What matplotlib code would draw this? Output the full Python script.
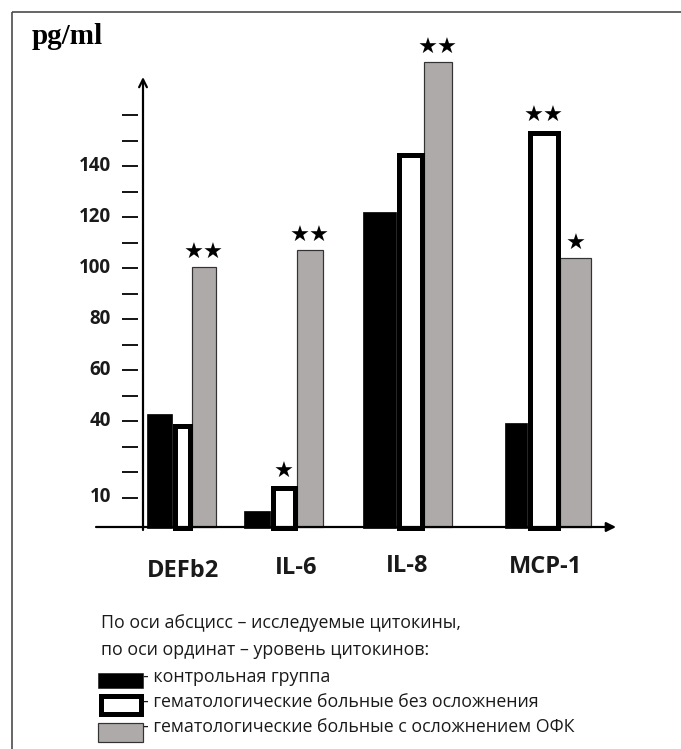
import matplotlib; matplotlib.use("Agg")
import matplotlib.pyplot as plt
from matplotlib.patches import Rectangle

# ---------------------------------------------------------------- data
CYTOKINES = ["DEFb2", "IL-6", "IL-8", "MCP-1"]
CONTROL = [42.7, 4.7, 122.0, 39.4]        # контрольная группа
NO_COMPL = [37.9, 13.6, 144.4, 153.0]     # без осложнения
WITH_COMPL = [100.4, 107.0, 180.8, 104.0] # с осложнением ОФК
STARS = [["", "", "★★"], ["", "★", "★★"], ["", "", "★★"], ["", "★★", "★"]]
TICK_VALUES = list(range(10, 170, 10))
TICK_LABELS = [10, 40, 60, 80, 100, 120, 140]
NOTE = ["По оси абсцисс – исследуемые цитокины,",
        "по оси ординат – уровень цитокинов:"]
SERIES_NAMES = ["- контрольная группа",
                "- гематологические больные без осложнения",
                "- гематологические больные с осложнением ОФК"]

# ---------------------------------------------------------------- layout (pixels)
W, H = 681, 749
PX_PER_UNIT = 2.55
ZERO_Y = 523                      # pixel row of value 0
GROUP_LEFT = [147, 244, 363, 505]
BAR_W = [[25, 20, 24], [26, 27, 26], [33, 28, 28], [22, 33, 31]]
LABEL_X = [183, 296, 407, 546]
LABEL_Y = [571, 568, 566, 567]
WHITE_LW = 5                      # px, thick outline of the white bars

C_GRAY = "#aeaaa9"
C_TEXT = "#1a1a1a"
SANS = ["Open Sans", "DejaVu Sans"]

plt.rcParams.update({"figure.dpi": 100, "savefig.dpi": 100})
PT = 72 / 100                     # points per pixel


def v(py):
    """pixel row (from top) -> data value"""
    return (ZERO_Y - py) / PX_PER_UNIT


fig = plt.figure(figsize=(W / 100, H / 100))
ax = fig.add_axes([0, 0, 1, 1])
ax.set_xlim(0, W)
ax.set_ylim(v(H), v(0))
ax.axis("off")

# frame (top and left edges)
ax.plot([12, W], [v(12), v(12)], color="#444444", lw=1.6 * PT, solid_capstyle="butt")
ax.plot([12, 12], [v(12), v(H)], color="#444444", lw=1.6 * PT, solid_capstyle="butt")

ax.text(32, v(37), "pg/ml", family="Liberation Serif", fontweight="bold",
        fontsize=21, va="center", ha="left", color="black")

# bars
bottom = v(528)
for i, name in enumerate(CYTOKINES):
    left = GROUP_LEFT[i]
    w0, w1, w2 = BAR_W[i]
    ax.add_patch(Rectangle((left, bottom), w0, CONTROL[i] - bottom,
                           facecolor="black", edgecolor="black", lw=0.5, zorder=3))
    x1 = left + w0
    ax.add_patch(Rectangle((x1 + WHITE_LW / 2, bottom), w1 - WHITE_LW, NO_COMPL[i] - bottom,
                           facecolor="white", edgecolor="black",
                           lw=WHITE_LW * PT, joinstyle="miter", zorder=4))
    x2 = x1 + w1
    ax.add_patch(Rectangle((x2, v(527)), w2, WITH_COMPL[i] - v(527),
                           facecolor=C_GRAY, edgecolor="#333333", lw=1.2 * PT, zorder=2))
    tops = [CONTROL[i], NO_COMPL[i] + WHITE_LW / 2 / PX_PER_UNIT, WITH_COMPL[i]]
    centers = [left + w0 / 2, x1 + w1 / 2, x2 + w2 / 2]
    for s, xc, top in zip(STARS[i], centers, tops):
        if s:
            ax.text(xc, top + 4 / PX_PER_UNIT, s, family="DejaVu Sans", fontsize=16,
                    ha="center", va="bottom", color="black", zorder=5)
    ax.text(LABEL_X[i], v(LABEL_Y[i]), name, family=SANS, fontweight="bold",
            fontsize=17, ha="center", va="center", color=C_TEXT)

# axes with arrows
ax.annotate("", xy=(143, v(77)), xytext=(143, v(530)),
            arrowprops=dict(arrowstyle="->", lw=2.2 * PT, color="black",
                            mutation_scale=14, shrinkA=0, shrinkB=0), zorder=6)
ax.annotate("", xy=(616, v(527)), xytext=(96, v(527)),
            arrowprops=dict(arrowstyle="-|>", lw=2.2 * PT, color="black",
                            mutation_scale=14, shrinkA=0, shrinkB=0), zorder=6)

for t in TICK_VALUES:
    ax.plot([122, 138], [t, t], color="black", lw=1.8 * PT, solid_capstyle="butt")
for t in TICK_LABELS:
    ax.text(111, t, str(t), family=SANS, fontweight="bold", fontsize=13.5,
            ha="right", va="center", color=C_TEXT)

# legend / note
ax.text(101, v(623), NOTE[0], family=SANS, fontsize=12.8, ha="left", va="center", color=C_TEXT)
ax.text(101, v(650), NOTE[1], family=SANS, fontsize=12.8, ha="left", va="center", color=C_TEXT)
swatches = [dict(fc="black", ec="black", lw=0.5, box=(98, 673, 45, 15)),
            dict(fc="white", ec="black", lw=WHITE_LW, box=(98 + 2.5, 693 + 2.5, 40, 18)),
            dict(fc=C_GRAY, ec="#333333", lw=1.2, box=(98, 723, 45, 19))]
text_y = [677, 702, 727]
for sw, label, ty in zip(swatches, SERIES_NAMES, text_y):
    x0, y0, bw, bh = sw["box"]
    ax.add_patch(Rectangle((x0, v(y0 + bh)), bw, bh / PX_PER_UNIT,
                           facecolor=sw["fc"], edgecolor=sw["ec"], lw=sw["lw"] * PT))
    ax.text(143, v(ty), label, family=SANS, fontsize=12.8, ha="left", va="center",
            color=C_TEXT)

fig.savefig("out.png", dpi=100)
